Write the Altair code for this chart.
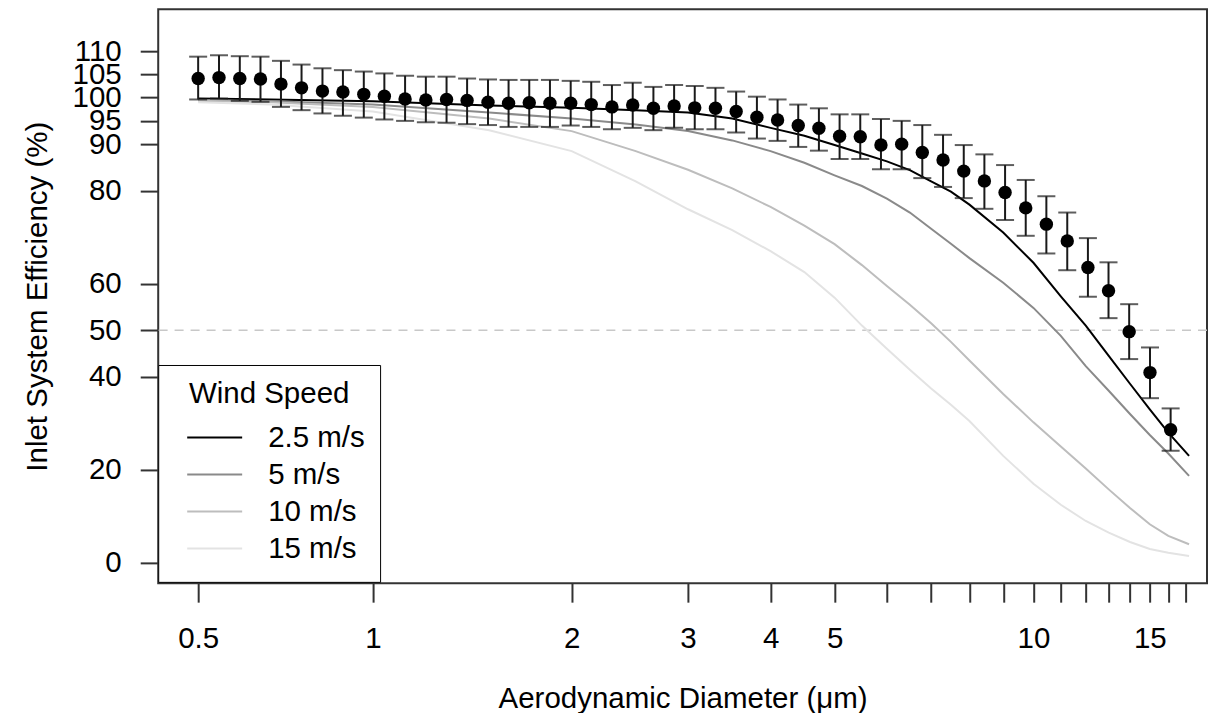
import altair as alt
import pandas as pd

# ---------------- data ----------------
# measured points: aerodynamic diameter (um), efficiency (%), error-bar limits
pt_d = [0.544, 0.585, 0.629, 0.676, 0.726, 0.780, 0.839, 0.901, 0.969,
        1.041, 1.119, 1.203, 1.293, 1.389, 1.494, 1.605, 1.725, 1.854, 1.993,
        2.141, 2.301, 2.474, 2.659, 2.858, 3.071, 3.301, 3.548, 3.814, 4.099,
        4.405, 4.734, 5.088, 5.468, 5.877, 6.317, 6.788, 7.297, 7.843, 8.428,
        9.058, 9.734, 10.46, 11.25, 12.09, 12.99, 13.96, 15.01, 16.13]
pt_eff = [104.1, 104.3, 104.1, 104.0, 102.9, 102.1, 101.4, 101.2, 100.7,
          100.3, 99.7, 99.5, 99.6, 99.4, 99.0, 98.8, 98.9, 98.8, 98.8,
          98.5, 98.0, 98.4, 97.7, 98.2, 97.8, 97.7, 97.0, 95.8, 95.2,
          94.0, 93.4, 91.7, 91.6, 89.8, 90.0, 88.2, 86.6, 84.2, 82.1,
          79.6, 76.3, 72.8, 69.2, 63.5, 58.5, 49.7, 40.9, 28.6]
pt_lo = [99.6, 99.8, 99.3, 99.1, 98.0, 97.3, 96.6, 96.1, 95.7,
         95.3, 95.0, 94.7, 94.6, 94.3, 94.1, 93.7, 93.7, 93.7, 94.0,
         93.7, 93.2, 93.5, 93.0, 93.5, 93.2, 93.2, 92.5, 91.2, 90.7,
         89.4, 88.6, 86.8, 86.8, 84.6, 84.6, 82.7, 80.8, 78.4, 76.1,
         73.7, 70.3, 66.5, 62.9, 57.2, 52.6, 43.8, 35.4, 24.1]
pt_hi = [108.8, 109.1, 108.9, 108.8, 107.9, 107.1, 106.3, 105.9, 105.6,
         105.2, 104.7, 104.5, 104.5, 104.1, 103.9, 103.8, 103.8, 103.8, 103.6,
         103.4, 102.7, 103.2, 102.3, 102.7, 102.5, 102.1, 101.3, 100.2, 99.6,
         98.5, 97.7, 96.4, 96.4, 95.4, 95.0, 94.1, 92.0, 89.8, 87.8,
         85.5, 82.3, 78.8, 75.3, 69.8, 64.6, 55.6, 46.3, 33.2]

# modelled curves for each wind speed
line_d = [0.544, 0.7, 1.0, 1.5, 2.0, 2.5, 3.0, 3.5, 4.0, 4.5, 5.0, 5.5, 6.0,
          6.5, 7.0, 7.5, 8.0, 9.0, 10.0, 11.0, 12.0, 13.0, 14.0, 15.0, 16.0, 17.2]
eff_2_5 = [99.8, 99.6, 99.2, 98.3, 97.8, 97.3, 96.8, 95.5, 93.5, 91.8, 89.8, 88.0, 86.3,
           84.4, 82.0, 79.8, 77.0, 71.0, 64.5, 57.3, 51.0, 44.5, 38.5, 33.0, 28.0, 23.0]
eff_5 = [99.5, 99.2, 98.5, 96.8, 95.5, 94.2, 92.8, 90.8, 88.5, 86.0, 83.3, 81.0, 78.3,
         75.3, 71.8, 68.6, 65.5, 60.2, 54.8, 48.8, 42.3, 37.0, 32.0, 27.5, 23.5, 18.7]
eff_10 = [99.3, 99.0, 98.0, 95.5, 92.8, 88.5, 84.5, 80.5, 76.5, 72.5, 68.5, 64.0, 59.5,
          55.5, 51.5, 47.5, 43.5, 36.3, 30.2, 25.0, 20.3, 15.8, 11.8, 8.3, 5.8, 4.0]
eff_15 = [99.0, 98.5, 97.0, 93.0, 88.5, 82.0, 76.0, 71.5, 67.0, 62.5, 57.0, 51.0, 46.0,
          41.5, 37.5, 34.0, 30.5, 23.0, 17.0, 12.5, 9.0, 6.5, 4.5, 3.0, 2.2, 1.5]

speeds = ["2.5 m/s", "5 m/s", "10 m/s", "15 m/s"]
speed_colors = ["#000000", "#8a8a8a", "#bdbdbd", "#e3e3e3"]

x_tick_values = [0.544, 1, 2, 3, 4, 5, 6, 7, 8, 9, 10, 11, 12, 13, 14, 15, 16, 17]
x_tick_labels = ["0.5", "1", "2", "3", "4", "5", "", "", "", "", "10", "", "", "", "", "15", "", ""]
y_tick_values = [0, 20, 40, 50, 60, 80, 90, 95, 100, 105, 110]

# ---------------- tables ----------------
pts = pd.DataFrame({"d": pt_d, "eff": pt_eff, "lo": pt_lo, "hi": pt_hi})
curves = pd.concat([
    pd.DataFrame({"d": line_d, "eff": vals, "speed": sp})
    for sp, vals in zip(speeds, [eff_2_5, eff_5, eff_10, eff_15])
])

label_map = "{" + ",".join(f"'{i}':'{t}'" for i, t in enumerate(x_tick_labels)) + "}"
vals_js = "[" + ",".join(str(v) for v in x_tick_values) + "]"
label_expr = f"{label_map}[toString(indexof({vals_js}, datum.value))]"

FONT = "Liberation Sans"
FS = 29.5

xscale = alt.Scale(type="log", domain=[0.4733, 18.31], nice=False, zero=False)
yscale = alt.Scale(domain=[-4.36, 119.0], nice=False, zero=False)

xaxis = alt.Axis(values=x_tick_values, labelExpr=label_expr, title="Aerodynamic Diameter (\u03bcm)",
                 tickSize=19, tickWidth=2, tickColor="#333333", domain=False, grid=False,
                 labelOverlap=False, labelFlush=False, labelFontSize=FS, labelPadding=22,
                 labelColor="#000000", titleFontSize=FS, titleFontWeight="normal",
                 titlePadding=32, titleColor="#000000")
yaxis = alt.Axis(values=y_tick_values, format="d", title="Inlet System Efficiency (%)",
                 tickSize=18, tickWidth=2, tickColor="#333333", domain=False, grid=False,
                 labelOverlap=False, labelFlush=False, labelFontSize=FS, labelPadding=19,
                 labelColor="#000000", titleFontSize=FS, titleFontWeight="normal",
                 titlePadding=20, titleColor="#000000")

base_x = alt.X("d:Q", scale=xscale, axis=xaxis)

ref = alt.Chart(pd.DataFrame({"y": [50]})).mark_rule(
    color="#c8c8c8", strokeDash=[9, 7], strokeWidth=1.6
).encode(y=alt.Y("y:Q", scale=yscale, axis=yaxis))

lines = alt.Chart(curves).mark_line(strokeWidth=2).encode(
    x=base_x,
    y=alt.Y("eff:Q", scale=yscale, axis=yaxis),
    color=alt.Color("speed:N", scale=alt.Scale(domain=speeds, range=speed_colors),
                    sort=speeds,
                    legend=alt.Legend(title="Wind Speed", orient="none", legendX=0, legendY=356,
                                      strokeColor="#000000", fillColor="#ffffff", padding=15,
                                      symbolType="stroke", symbolSize=3025, symbolStrokeWidth=2,
                                      symbolOffset=13, labelOffset=25, clipHeight=36.3,
                                      rowPadding=0, titlePadding=10, titleAnchor="middle",
                                      titleFontSize=FS, titleFontWeight="normal", titleColor="#000000",
                                      labelFontSize=FS, labelColor="#000000")),
    detail="speed:N",
)

bars = alt.Chart(pts).mark_rule(color="#1a1a1a", strokeWidth=2).encode(
    x=base_x, y=alt.Y("lo:Q", scale=yscale, axis=yaxis), y2="hi:Q")
cap_lo = alt.Chart(pts).mark_tick(color="#1a1a1a", thickness=2, size=18, orient="horizontal").encode(
    x=base_x, y=alt.Y("lo:Q", scale=yscale, axis=yaxis))
cap_hi = alt.Chart(pts).mark_tick(color="#1a1a1a", thickness=2, size=18, orient="horizontal").encode(
    x=base_x, y=alt.Y("hi:Q", scale=yscale, axis=yaxis))
dots = alt.Chart(pts).mark_circle(color="#000000", opacity=1, size=180).encode(
    x=base_x, y=alt.Y("eff:Q", scale=yscale, axis=yaxis))

chart = alt.layer(ref, lines, bars, cap_lo, cap_hi, dots).properties(
    width=1049.4, height=574.3,
    autosize=alt.AutoSizeParams(type="none"),
    padding={"left": 150.3, "top": 1, "right": 2, "bottom": 130},
    background="#ffffff",
).configure(font=FONT).configure_view(stroke="#333333", strokeWidth=2)

chart.save("out.html", embed_options={"renderer": "svg", "actions": False})
